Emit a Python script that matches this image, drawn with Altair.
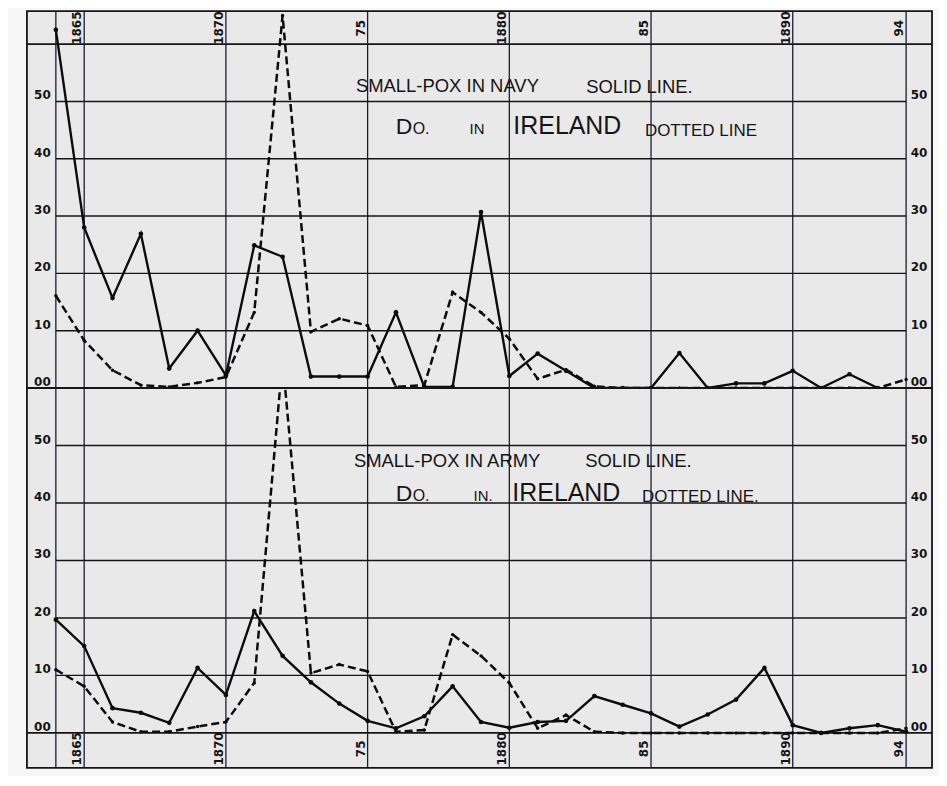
import altair as alt
import pandas as pd

# ---------------- data ----------------
years = list(range(1864, 1895))

navy = [62.5, 28.0, 15.7, 26.9, 3.4, 10.0, 2.2, 24.9, 22.9, 2.0,
        2.0, 2.0, 13.2, 0.2, 0.2, 30.7, 2.1, 6.0, 3.0, 0.0,
        0.0, 0.0, 6.1, 0.0, 0.8, 0.8, 3.0, 0.0, 2.4, 0.0, None]
ireland_top = [16.1, 8.3, 3.1, 0.5, 0.2, 0.9, 1.9, 13.2, 65.0, 9.8,
               12.1, 10.9, 0.2, 0.5, 16.7, 13.2, 8.6, 1.6, 3.2, 0.3,
               0.0, 0.0, 0.0, 0.0, 0.0, 0.0, 0.0, 0.0, 0.0, 0.0, 1.5]

army = [19.7, 15.1, 4.3, 3.5, 1.75, 11.3, 6.6, 21.2, 13.4, 8.8,
        5.1, 2.1, 0.8, 2.9, 8.1, 1.9, 0.9, 1.9, 2.1, 6.4,
        4.9, 3.4, 1.1, 3.2, 5.8, 11.3, 1.35, 0.0, 0.8, 1.35, 0.2]
ireland_bottom = [11.0, 8.1, 1.9, 0.2, 0.2, 1.1, 1.9, 8.7, 65.0, 10.4,
                  11.9, 10.7, 0.2, 0.5, 17.1, 13.4, 8.7, 0.8, 3.1, 0.2,
                  0.0, 0.0, 0.0, 0.0, 0.0, 0.0, 0.0, 0.0, 0.0, 0.0, 0.8]

grid_values = [10, 20, 30, 40, 50]
axis_values = [0, 10, 20, 30, 40, 50]
axis_labels = ["00", "10", "20", "30", "40", "50"]
division_years = [1864, 1865, 1870, 1875, 1880, 1885, 1890, 1894]
label_years = [1865, 1870, 1875, 1880, 1885, 1890, 1894]
label_texts = ["1865", "1870", "75", "1880", "85", "1890", "94"]

# ---------------- layout / style ----------------
W = 908
X_DOMAIN = [1862.98, 1894.914]
INK = "#151515"
LINE_INK = "#1c1c2e"
SANS = "Liberation Sans"
NUM_FONT = "DejaVu Sans"


def series_df(vals):
    df = pd.DataFrame({"year": years, "value": vals})
    return df.dropna()


def panel(solid, dashed, y_domain, height, full_line_value, band_y, clip, notes):
    xs = alt.X("year:Q", scale=alt.Scale(domain=X_DOMAIN, nice=False, zero=False), axis=None)
    ysc = alt.Scale(domain=y_domain, nice=False, zero=False)
    ys = alt.Y("value:Q", scale=ysc, axis=None)

    grid_df = pd.DataFrame({"value": grid_values, "year": 1864, "year_end": 1894})
    grid = alt.Chart(grid_df).mark_rule(color=INK, strokeWidth=1.4).encode(
        x=xs, x2="year_end:Q", y=ys)

    full_df = pd.DataFrame({"value": [full_line_value]})
    full = alt.Chart(full_df).mark_rule(color=INK, strokeWidth=1.6).encode(
        x=alt.value(0), x2=alt.value(W), y=ys)

    div_df = pd.DataFrame({"year": division_years})
    divs = alt.Chart(div_df).mark_rule(color=LINE_INK, strokeWidth=1.3).encode(x=xs)

    sdf = series_df(solid)
    ddf = series_df(dashed)
    solid_line = alt.Chart(sdf).mark_line(color="#0c0c0c", strokeWidth=2.4, clip=clip).encode(x=xs, y=ys)
    solid_pts = alt.Chart(sdf).mark_circle(color="#0c0c0c", size=22, opacity=1, clip=clip).encode(x=xs, y=ys)
    dash_line = alt.Chart(ddf).mark_line(color="#0c0c0c", strokeWidth=2.5, strokeDash=[8, 4], clip=clip).encode(x=xs, y=ys)
    dash_pts = alt.Chart(ddf).mark_circle(color="#0c0c0c", size=12, opacity=1, clip=clip).encode(x=xs, y=ys)

    lab_df = pd.DataFrame({"value": axis_values, "label": axis_labels})
    left_lab = alt.Chart(lab_df).mark_text(font=NUM_FONT, fontWeight="bold", fontSize=12, color=INK,
                                           align="center", baseline="alphabetic", dy=-2).encode(
        x=alt.value(15.5), y=ys, text="label:N")
    right_lab = alt.Chart(lab_df).mark_text(font=NUM_FONT, fontWeight="bold", fontSize=12, color=INK,
                                            align="center", baseline="alphabetic", dy=-2).encode(
        x=alt.value(895), y=ys, text="label:N")

    yl_df = pd.DataFrame({"year": label_years, "label": label_texts})
    year_lab = alt.Chart(yl_df).mark_text(font=NUM_FONT, fontWeight="bold", fontSize=12, color=INK,
                                          angle=270, align="center", baseline="bottom").encode(
        x=xs, y=alt.value(band_y), text="label:N")

    texts = []
    for (txt, px, py, size) in notes:
        texts.append(alt.Chart(full_df).mark_text(font=SANS, fontSize=size, color=INK,
                                                  align="left", baseline="alphabetic").encode(
            x=alt.value(px), y=alt.value(py), text=alt.value(txt)))

    return alt.layer(grid, full, divs, dash_line, dash_pts, solid_line, solid_pts,
                     left_lab, right_lab, year_lab, *texts).properties(width=W, height=height)


top_notes = [
    ("SMALL-POX IN NAVY", 330, 81, 18.5),
    ("SOLID LINE.", 561, 82, 18.5),
    ("D", 370, 123, 23),
    ("O.", 387, 123, 16),
    ("IN", 444, 123, 15),
    ("IRELAND", 488, 123, 25),
    ("DOTTED LINE", 620, 125, 17),
]
bottom_notes = [
    ("SMALL-POX IN ARMY", 328, 79, 18.5),
    ("SOLID LINE.", 560, 79, 18.5),
    ("D", 370, 113, 23),
    ("O.", 387, 113, 16),
    ("IN.", 448, 113, 15),
    ("IRELAND", 487, 113, 25),
    ("DOTTED LINE.", 617, 114, 17),
]

top = panel(navy, ireland_top, [0, 65.74], 378, 60, 17, False, top_notes)
bottom = panel(army, ireland_bottom, [-6.07, 60], 381, 0, 362, True, bottom_notes)

chart = alt.vconcat(top, bottom, spacing=0, bounds="flush").properties(
    background="#f7f7f7",
    padding={"left": 17, "top": 0, "right": 5, "bottom": 5},
).configure_view(stroke=INK, strokeWidth=1.8, fill="#e9e9e9")

chart.save("out.html", embed_options={"renderer": "svg", "actions": False})
